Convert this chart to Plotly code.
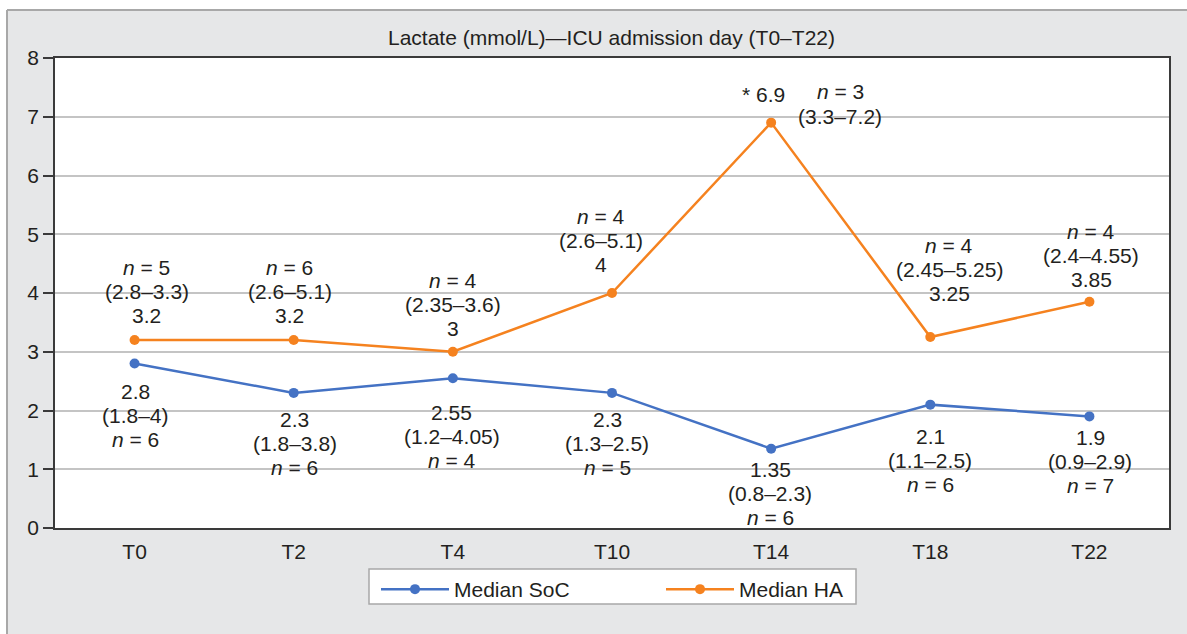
import plotly.graph_objects as go

# ---------------- data ----------------
categories = ["T0", "T2", "T4", "T10", "T14", "T18", "T22"]
soc_median = [2.8, 2.3, 2.55, 2.3, 1.35, 2.1, 1.9]
soc_range = ["1.8–4", "1.8–3.8", "1.2–4.05", "1.3–2.5", "0.8–2.3", "1.1–2.5", "0.9–2.9"]
soc_n = [6, 6, 4, 5, 6, 6, 7]
ha_median = [3.2, 3.2, 3, 4, 6.9, 3.25, 3.85]
ha_range = ["2.8–3.3", "2.6–5.1", "2.35–3.6", "2.6–5.1", "3.3–7.2", "2.45–5.25", "2.4–4.55"]
ha_n = [5, 6, 4, 4, 3, 4, 4]
y_ticks = [0, 1, 2, 3, 4, 5, 6, 7, 8]

# ---------------- layout constants ----------------
W, H = 1187, 634
ML, MR, MT, MB = 55, 18, 58, 106
PW, PH = W - ML - MR, H - MT - MB
FONT = "Liberation Sans, Arial, sans-serif"
TXT = "#231F20"
BLUE = "#4472C4"
ORANGE = "#F5821F"
FS = 21
LINE_H = 24

# label placement (pixels): distance of first line from point, horizontal shift
ha_dy = [73, 73, 71, 77, 0, 92, 70]
ha_dx = [12, -4, 0, -11, 0, 19, 2]
soc_dy = [27.5, 27, 34, 27, 21, 32, 21]
soc_dx = [1, 1, -1, -5, -1, 0, 1]

fig = go.Figure()
fig.add_trace(go.Scatter(
    x=categories, y=soc_median, mode="lines+markers", name="Median SoC",
    line=dict(color=BLUE, width=2.5), marker=dict(color=BLUE, size=10),
))
fig.add_trace(go.Scatter(
    x=categories, y=ha_median, mode="lines+markers", name="Median HA",
    line=dict(color=ORANGE, width=2.5), marker=dict(color=ORANGE, size=10),
))

annotations = []


def label(x, y, text, xshift, yshift):
    annotations.append(dict(
        x=x, y=y, xref="x", yref="y", text=text, showarrow=False,
        xanchor="center", yanchor="middle", xshift=xshift, yshift=yshift,
        font=dict(family=FONT, size=FS, color=TXT),
    ))


for i, c in enumerate(categories):
    # SoC labels (below point)
    lines = [f"{soc_median[i]:g}", f"({soc_range[i]})", f"<i>n</i> = {soc_n[i]}"]
    for k, t in enumerate(lines):
        label(c, soc_median[i], t, soc_dx[i], -(soc_dy[i] + LINE_H * k))
    # HA labels (above point)
    if c == "T14":
        label(c, ha_median[i], f"* {ha_median[i]:g}", -8, 28)
        label(c, ha_median[i], f"<i>n</i> = {ha_n[i]}", 69, 31)
        label(c, ha_median[i], f"({ha_range[i]})", 69, 6)
    else:
        lines = [f"<i>n</i> = {ha_n[i]}", f"({ha_range[i]})", f"{ha_median[i]:g}"]
        for k, t in enumerate(lines):
            label(c, ha_median[i], t, ha_dx[i], ha_dy[i] - LINE_H * k)


def px_x(p):
    return (p - ML) / PW


def px_y(p):
    return (H - MB - p) / PH


shapes = [
    # white strips outside grey frame
    dict(type="rect", xref="paper", yref="paper", x0=px_x(-5), x1=px_x(W + 5),
         y0=px_y(10), y1=px_y(-5), fillcolor="white", line=dict(width=0), layer="below"),
    dict(type="rect", xref="paper", yref="paper", x0=px_x(-5), x1=px_x(7),
         y0=px_y(H + 5), y1=px_y(-5), fillcolor="white", line=dict(width=0), layer="below"),
    # grey frame border
    dict(type="line", xref="paper", yref="paper", x0=px_x(7), x1=px_x(W + 5),
         y0=px_y(10), y1=px_y(10), line=dict(color="#A8A8A8", width=2), layer="below"),
    dict(type="line", xref="paper", yref="paper", x0=px_x(7), x1=px_x(7),
         y0=px_y(10), y1=px_y(H + 5), line=dict(color="#A8A8A8", width=2), layer="below"),
    # legend box
    dict(type="rect", xref="paper", yref="paper", x0=px_x(369), x1=px_x(856),
         y0=px_y(604), y1=px_y(569), fillcolor="white",
         line=dict(color="#A8A8A8", width=1.5), layer="below"),
]

fig.update_layout(
    width=W, height=H,
    margin=dict(l=ML, r=MR, t=MT, b=MB, pad=0),
    paper_bgcolor="#E6E7E8",
    plot_bgcolor="white",
    font=dict(family=FONT, size=FS, color=TXT),
    title=dict(text="Lactate (mmol/L)—ICU admission day (T0–T22)",
               x=(611.5) / W, xanchor="center", y=1 - 38 / H, yanchor="middle",
               font=dict(family=FONT, size=FS, color=TXT)),
    xaxis=dict(type="category", range=[-0.5, 6.5], showgrid=False,
               showline=True, linecolor="#3A3A3A", linewidth=1.5, mirror=True,
               ticks="", tickfont=dict(size=FS, color=TXT), ticklabelstandoff=4),
    yaxis=dict(range=[0, 8], tickvals=y_ticks, showgrid=True, gridcolor="#C4C4C4",
               gridwidth=1.5, zeroline=False,
               showline=True, linecolor="#3A3A3A", linewidth=1.5, mirror=True,
               ticks="outside", ticklen=10, tickcolor="#3A3A3A", tickwidth=1.5,
               tickfont=dict(size=FS, color=TXT)),
    legend=dict(orientation="h", x=px_x(376), xanchor="left", y=px_y(569), yanchor="top",
                bgcolor="rgba(0,0,0,0)", borderwidth=0,
                font=dict(family=FONT, size=FS, color=TXT),
                itemwidth=68, entrywidth=202, entrywidthmode="pixels",
                tracegroupgap=0),
    annotations=annotations,
    shapes=shapes,
    showlegend=True,
)

fig.write_html("out.html", config={"displayModeBar": False},
               post_script="document.body.style.margin='0';")
